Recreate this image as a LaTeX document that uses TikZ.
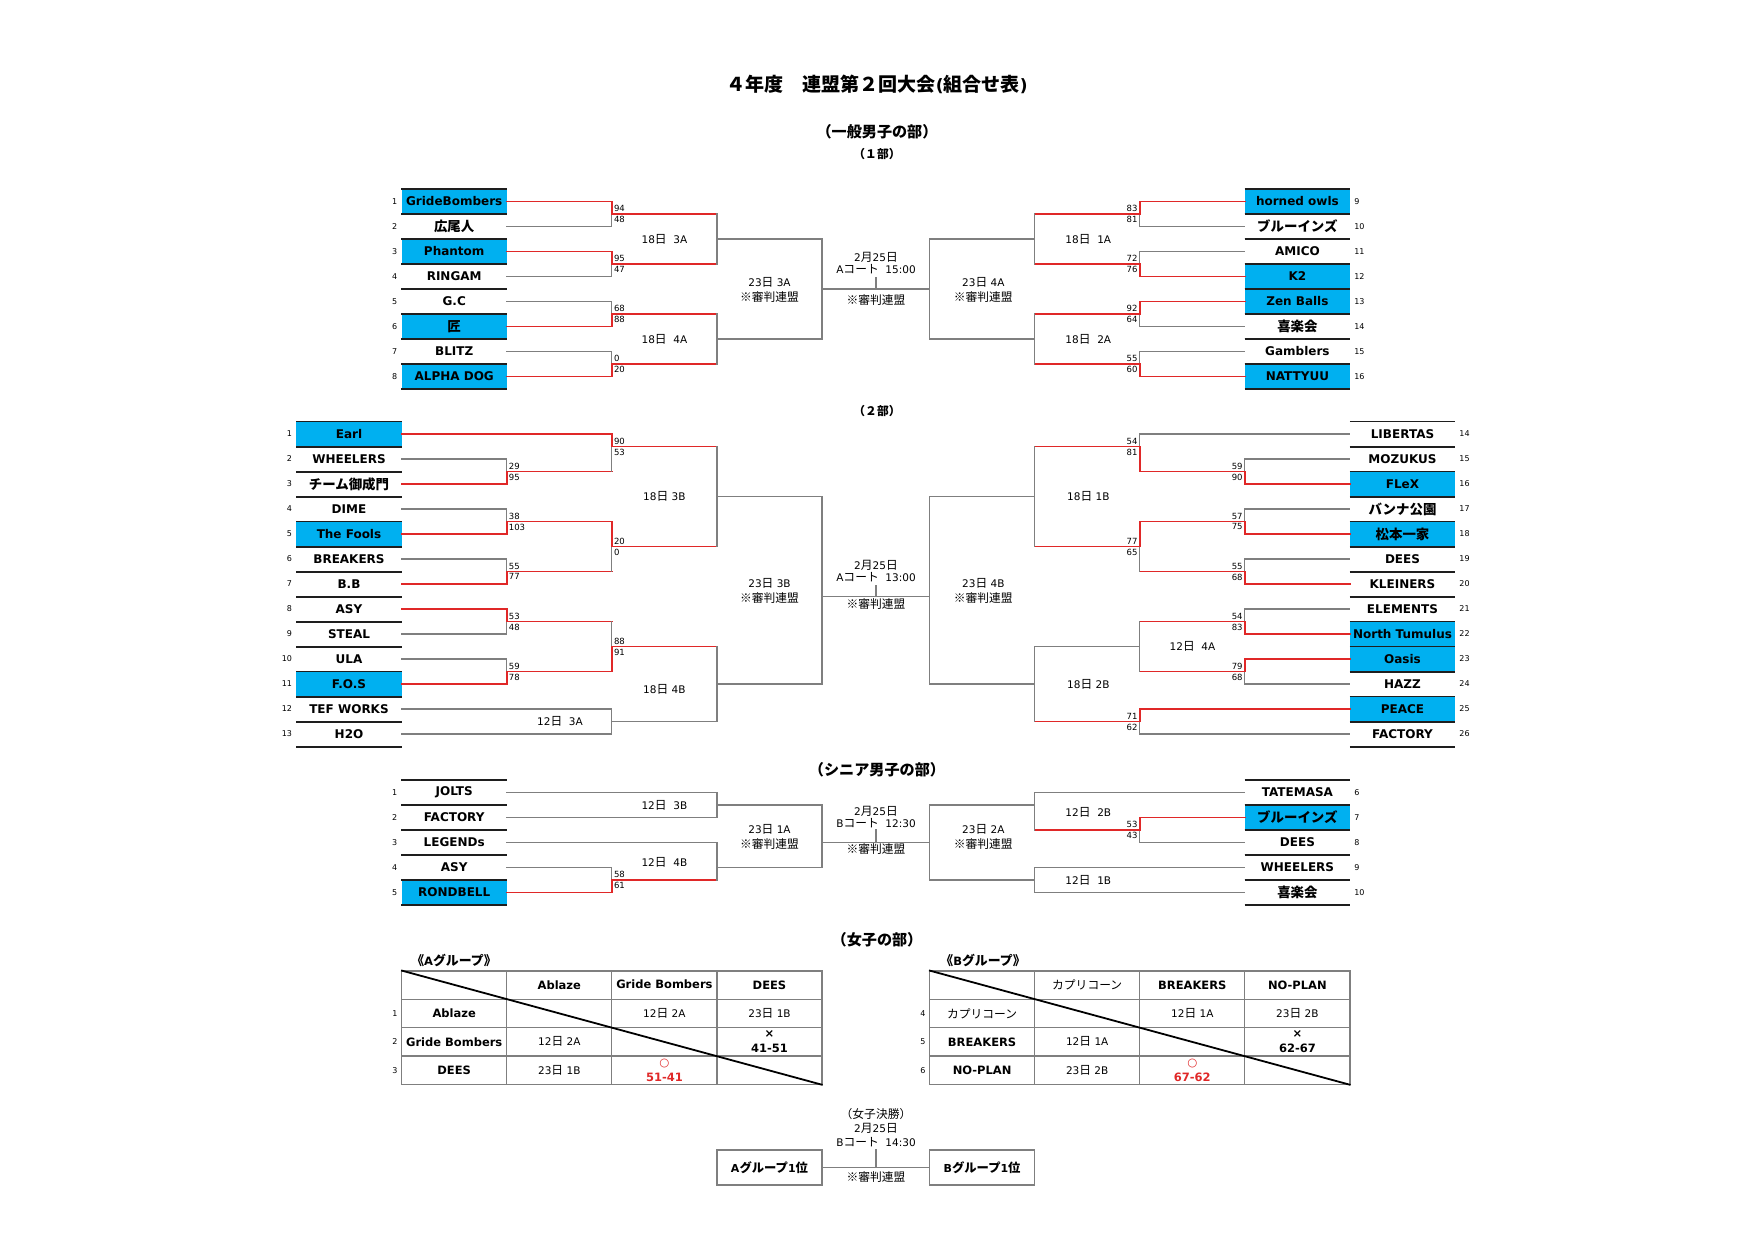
\documentclass[tikz,border=0pt]{standalone}
\usepackage{fontspec}
\setmainfont{DejaVu Sans}
\newfontfamily\jpfont{Noto Sans CJK JP}[Scale=1.12]
\usetikzlibrary{positioning}
\definecolor{Sky}{HTML}{00B0F0}
\definecolor{Win}{HTML}{E02828}
\definecolor{Wire}{HTML}{7F7F7F}
\definecolor{Rule}{HTML}{1E1E1E}

% kana / kanji are set in the CJK face automatically
\XeTeXinterchartokenstate=1
\newXeTeXintercharclass\jpclass
\count255="3000
\loop
  \XeTeXcharclass\count255=\jpclass
  \advance\count255 by 1
\ifnum\count255<"A000 \repeat
\count255="FF00
\loop
  \XeTeXcharclass\count255=\jpclass
  \advance\count255 by 1
\ifnum\count255<"FFF0 \repeat
\XeTeXcharclass"203B=\jpclass
\XeTeXinterchartoks 0 \jpclass={\begingroup\jpfont}
\XeTeXinterchartoks 4095 \jpclass={\begingroup\jpfont}
\XeTeXinterchartoks \jpclass 0={\endgroup}
\XeTeXinterchartoks \jpclass 4095={\endgroup}

\newcommand\teamfont{\bfseries\fontsize{12}{13}\selectfont}
\newcommand\numfont{\fontsize{8}{9}\selectfont}
\newcommand\scorefont{\fontsize{8.5}{9}\selectfont}
\newcommand\labelfont{\fontsize{10.5}{15.5}\selectfont}
\newcommand\datefont{\fontsize{10.5}{12}\selectfont}

\tikzset{
  team/.style={minimum width=105.1, minimum height=25, inner sep=0pt, font=\teamfont},
  hi/.style={fill=Sky},
  lo/.style={},
  rowline/.style={draw=Rule, line width=1.6pt},
  redline/.style={draw=Win, line width=1.7pt, line cap=rect},
  greyline/.style={draw=Wire, line width=1.3pt, line cap=rect},
  num/.style={font=\numfont, inner sep=1pt},
  score/.style={font=\scorefont, inner sep=2pt},
  matchlabel/.style={font=\labelfont, align=center, inner sep=0pt},
  datelabel/.style={font=\datefont, align=center, inner sep=0pt},
  titletext/.style={font=\bfseries\fontsize{17}{20}\selectfont},
  headtext/.style={font=\bfseries\fontsize{13.5}{15}\selectfont},
  subtext/.style={font=\bfseries\fontsize{10.5}{12}\selectfont},
  grouptext/.style={font=\bfseries\fontsize{11.5}{13}\selectfont},
  tabframe/.style={draw=Wire, line width=1.2pt, minimum width=420.3, minimum height=113.3, inner sep=0pt},
  tabline/.style={draw=Wire, line width=1.2pt},
  diag/.style={draw=black, line width=1.8pt},
  cell/.style={font=\fontsize{10.5}{15}\selectfont, align=center, inner sep=0pt},
  cellb/.style={font=\bfseries\fontsize{11.5}{15}\selectfont, align=center, inner sep=0pt},
  finalbox/.style={draw=Wire, line width=1.3pt, minimum width=105.1, minimum height=35,
    font=\bfseries\fontsize{11}{12}\selectfont}
}

\newcommand\wonline[2]{\draw[redline] (#1) -| (#2);}
\newcommand\lostline[2]{\draw[greyline] (#1) -| (#2);}
\newcommand\cutline[2]{\draw[redline] (#1) -- (#1 -| #2); \draw[greyline] (#1 -| #2) -- (#2);}
\newcommand\scoreleft[3]{\node[score,above right] (#1t) at (#1) {#2}; \node[score,below right] (#1b) at (#1) {#3};}
\newcommand\scoreright[3]{\node[score,above left] (#1t) at (#1) {#2}; \node[score,below left] (#1b) at (#1) {#3};}

\begin{document}
\begin{tikzpicture}[x=1pt,y=-1pt]
\useasboundingbox (0,0) rectangle (1754,1240);

% headings
\node[titletext] (title) at (877,84) {４年度　連盟第２回大会(組合せ表)};
\node[headtext] (head1) at (877,132) {（一般男子の部）};
\node[subtext] (part1) at (877,154) {（１部）};
\node[subtext] (part2) at (877,411.5) {（２部）};
\node[headtext] (head2) at (877,769.5) {（シニア男子の部）};
\node[headtext] (head3) at (877,939.5) {（女子の部）};

% ---------------- 1部 ----------------
\foreach \n/\t/\s in {1/GrideBombers/hi,2/広尾人/lo,3/Phantom/hi,4/RINGAM/lo,5/G.C/lo,6/匠/hi,7/BLITZ/lo,8/ALPHA DOG/hi}{
  \node[team,\s] (A\n) at (454.2,{201.5+25*(\n-1)}) {\t};
  \draw[rowline] (A\n.north west) -- (A\n.north east) (A\n.south west) -- (A\n.south east);
  \node[num,left=3pt of A\n] (nA\n) {\n};
}
\foreach \n/\t/\s in {9/horned owls/hi,10/ブルーインズ/lo,11/AMICO/lo,12/K2/hi,13/Zen Balls/hi,14/喜楽会/lo,15/Gamblers/lo,16/NATTYUU/hi}{
  \node[team,\s] (A\n) at (1297.4,{201.5+25*(\n-9)}) {\t};
  \draw[rowline] (A\n.north west) -- (A\n.north east) (A\n.south west) -- (A\n.south east);
  \node[num,right=3pt of A\n] (nA\n) {\n};
}
\coordinate (a12) at (611.8,214);
\coordinate (a34) at (611.8,264);
\coordinate (a56) at (611.8,314);
\coordinate (a78) at (611.8,364);
\coordinate (a14) at (716.9,239);
\coordinate (a58) at (716.9,339);
\coordinate (a18) at (822,289);
\coordinate (b910) at (1139.7,214);
\coordinate (b1112) at (1139.7,264);
\coordinate (b1314) at (1139.7,314);
\coordinate (b1516) at (1139.7,364);
\coordinate (b912) at (1034.6,239);
\coordinate (b1316) at (1034.6,339);
\coordinate (b916) at (929.5,289);
\coordinate (fin1) at (876,289);
\coordinate (fin1top) at (876,278);

\lostline{A2.east}{a12} \wonline{A1.east}{a12}
\lostline{A4.east}{a34} \wonline{A3.east}{a34}
\lostline{A5.east}{a56} \wonline{A6.east}{a56}
\lostline{A7.east}{a78} \wonline{A8.east}{a78}
\cutline{a12}{a14} \cutline{a34}{a14}
\cutline{a56}{a58} \cutline{a78}{a58}
\lostline{a14}{a18} \lostline{a58}{a18}
\lostline{A10.west}{b910} \wonline{A9.west}{b910}
\lostline{A11.west}{b1112} \wonline{A12.west}{b1112}
\lostline{A14.west}{b1314} \wonline{A13.west}{b1314}
\lostline{A15.west}{b1516} \wonline{A16.west}{b1516}
\cutline{b910}{b912} \cutline{b1112}{b912}
\cutline{b1314}{b1316} \cutline{b1516}{b1316}
\lostline{b912}{b916} \lostline{b1316}{b916}
\draw[greyline] (a18) -- (b916);
\draw[greyline] (fin1) -- (fin1top);

\scoreleft{a12}{94}{48} \scoreleft{a34}{95}{47} \scoreleft{a56}{68}{88} \scoreleft{a78}{0}{20}
\scoreright{b910}{83}{81} \scoreright{b1112}{72}{76} \scoreright{b1314}{92}{64} \scoreright{b1516}{55}{60}

\node[matchlabel] (m3A) at (664.4,239.5) {18日\ \ 3A};
\node[matchlabel] (m4A) at (664.4,339.5) {18日\ \ 4A};
\node[matchlabel] (m23a) at (769.5,290) {23日 3A\\※審判連盟};
\node[matchlabel] (m1A) at (1088.3,239.5) {18日\ \ 1A};
\node[matchlabel] (m2A) at (1088.3,339.5) {18日\ \ 2A};
\node[matchlabel] (m23b) at (983.3,290) {23日 4A\\※審判連盟};
\node[datelabel] (final1) at (876,263) {2月25日\\Aコート\ \ 15:00};
\node[datelabel] (ref1) at (876,300) {※審判連盟};

% ---------------- 2部 ----------------
\foreach \n/\t/\s in {1/Earl/hi,2/WHEELERS/lo,3/チーム御成門/lo,4/DIME/lo,5/The Fools/hi,6/BREAKERS/lo,7/B.B/lo,8/ASY/lo,9/STEAL/lo,10/ULA/lo,11/F.O.S/hi,12/TEF WORKS/lo,13/H2O/lo}{
  \node[team,\s] (B\n) at (349,{434+25*(\n-1)}) {\t};
  \draw[rowline] (B\n.north west) -- (B\n.north east) (B\n.south west) -- (B\n.south east);
  \node[num,left=3pt of B\n] (nB\n) {\n};
}
\foreach \n/\t/\s in {14/LIBERTAS/lo,15/MOZUKUS/lo,16/FLeX/hi,17/バンナ公園/lo,18/松本一家/hi,19/DEES/lo,20/KLEINERS/lo,21/ELEMENTS/lo,22/North Tumulus/hi,23/Oasis/hi,24/HAZZ/lo,25/PEACE/hi,26/FACTORY/lo}{
  \node[team,\s] (B\n) at (1402.5,{434+25*(\n-14)}) {\t};
  \draw[rowline] (B\n.north west) -- (B\n.north east) (B\n.south west) -- (B\n.south east);
  \node[num,right=3pt of B\n] (nB\n) {\n};
}
\coordinate (c23) at (506.7,471.5);
\coordinate (c45) at (506.7,521.5);
\coordinate (c67) at (506.7,571.5);
\coordinate (c89) at (506.7,621.5);
\coordinate (c1011) at (506.7,671.5);
\coordinate (c13) at (611.8,446.5);
\coordinate (c47) at (611.8,546.5);
\coordinate (c811) at (611.8,646.5);
\coordinate (c1213) at (611.8,721.5);
\coordinate (c17) at (716.9,496.5);
\coordinate (c813) at (716.9,684);
\coordinate (c113) at (822,596.5);
\coordinate (d1516) at (1244.8,471.5);
\coordinate (d1718) at (1244.8,521.5);
\coordinate (d1920) at (1244.8,571.5);
\coordinate (d2122) at (1244.8,621.5);
\coordinate (d2324) at (1244.8,671.5);
\coordinate (d1416) at (1139.7,446.5);
\coordinate (d1720) at (1139.7,546.5);
\coordinate (d2124) at (1139.7,646.5);
\coordinate (d2526) at (1139.7,721.5);
\coordinate (d1420) at (1034.6,496.5);
\coordinate (d2126) at (1034.6,684);
\coordinate (d1426) at (929.5,596.5);
\coordinate (fin2) at (876,596.5);
\coordinate (fin2top) at (876,586);

\lostline{B2.east}{c23} \wonline{B3.east}{c23}
\lostline{B4.east}{c45} \wonline{B5.east}{c45}
\lostline{B6.east}{c67} \wonline{B7.east}{c67}
\lostline{B9.east}{c89} \wonline{B8.east}{c89}
\lostline{B10.east}{c1011} \wonline{B11.east}{c1011}
\lostline{B12.east}{c1213} \lostline{B13.east}{c1213}
\cutline{c23}{c13} \wonline{B1.east}{c13}
\cutline{c67}{c47} \wonline{c45}{c47}
\cutline{c89}{c811} \wonline{c1011}{c811}
\cutline{c13}{c17} \cutline{c47}{c17}
\lostline{c1213}{c813} \cutline{c811}{c813}
\lostline{c17}{c113} \lostline{c813}{c113}
\lostline{B15.west}{d1516} \wonline{B16.west}{d1516}
\lostline{B17.west}{d1718} \wonline{B18.west}{d1718}
\lostline{B19.west}{d1920} \wonline{B20.west}{d1920}
\lostline{B21.west}{d2122} \wonline{B22.west}{d2122}
\lostline{B24.west}{d2324} \wonline{B23.west}{d2324}
\lostline{B26.west}{d2526} \wonline{B25.west}{d2526}
\lostline{B14.west}{d1416} \wonline{d1516}{d1416}
\cutline{d1920}{d1720} \wonline{d1718}{d1720}
\cutline{d2122}{d2124} \cutline{d2324}{d2124}
\cutline{d1416}{d1420} \cutline{d1720}{d1420}
\lostline{d2124}{d2126} \cutline{d2526}{d2126}
\lostline{d1420}{d1426} \lostline{d2126}{d1426}
\draw[greyline] (c113) -- (d1426);
\draw[greyline] (fin2) -- (fin2top);

\scoreleft{c23}{29}{95} \scoreleft{c45}{38}{103} \scoreleft{c67}{55}{77}
\scoreleft{c89}{53}{48} \scoreleft{c1011}{59}{78}
\scoreleft{c13}{90}{53} \scoreleft{c47}{20}{0} \scoreleft{c811}{88}{91}
\scoreright{d1516}{59}{90} \scoreright{d1718}{57}{75} \scoreright{d1920}{55}{68}
\scoreright{d2122}{54}{83} \scoreright{d2324}{79}{68}
\scoreright{d1416}{54}{81} \scoreright{d1720}{77}{65} \scoreright{d2526}{71}{62}

\node[matchlabel] (m3Ad12) at (560,721) {12日\ \ 3A};
\node[matchlabel] (m3B) at (664.4,496.5) {18日 3B};
\node[matchlabel] (m4B) at (664.4,689) {18日 4B};
\node[matchlabel] (m23c) at (769.5,591) {23日 3B\\※審判連盟};
\node[matchlabel] (m1B) at (1088.3,496.5) {18日 1B};
\node[matchlabel] (m4Ad12) at (1192.5,646.5) {12日\ \ 4A};
\node[matchlabel] (m2B) at (1088.3,684.5) {18日 2B};
\node[matchlabel] (m23d) at (983.3,591) {23日 4B\\※審判連盟};
\node[datelabel] (final2) at (876,571) {2月25日\\Aコート\ \ 13:00};
\node[datelabel] (ref2) at (876,604) {※審判連盟};

% ---------------- シニア ----------------
\foreach \n/\t/\s in {1/JOLTS/lo,2/FACTORY/lo,3/LEGENDs/lo,4/ASY/lo,5/RONDBELL/hi}{
  \node[team,\s] (S\n) at (454.2,{792.5+25*(\n-1)}) {\t};
  \draw[rowline] (S\n.north west) -- (S\n.north east) (S\n.south west) -- (S\n.south east);
  \node[num,left=3pt of S\n] (nS\n) {\n};
}
\foreach \n/\t/\s in {6/TATEMASA/lo,7/ブルーインズ/hi,8/DEES/lo,9/WHEELERS/lo,10/喜楽会/lo}{
  \node[team,\s] (S\n) at (1297.4,{792.5+25*(\n-6)}) {\t};
  \draw[rowline] (S\n.north west) -- (S\n.north east) (S\n.south west) -- (S\n.south east);
  \node[num,right=3pt of S\n] (nS\n) {\n};
}
\coordinate (e12) at (716.9,805);
\coordinate (e45) at (611.8,880);
\coordinate (e35) at (716.9,867.5);
\coordinate (e15) at (822,842.5);
\coordinate (f78) at (1139.7,830);
\coordinate (f68) at (1034.6,805);
\coordinate (f910) at (1034.6,880);
\coordinate (f610) at (929.5,842.5);
\coordinate (fin3) at (876,842.5);
\coordinate (fin3top) at (876,830);

\lostline{S1.east}{e12} \lostline{S2.east}{e12}
\lostline{S4.east}{e45} \wonline{S5.east}{e45}
\lostline{S3.east}{e35} \cutline{e45}{e35}
\lostline{e12}{e15} \lostline{e35}{e15}
\lostline{S8.west}{f78} \wonline{S7.west}{f78}
\lostline{S6.west}{f68} \cutline{f78}{f68}
\lostline{S9.west}{f910} \lostline{S10.west}{f910}
\lostline{f68}{f610} \lostline{f910}{f610}
\draw[greyline] (e15) -- (f610);
\draw[greyline] (fin3) -- (fin3top);

\scoreleft{e45}{58}{61}
\scoreright{f78}{53}{43}

\node[matchlabel] (s3B) at (664.4,805) {12日\ \ 3B};
\node[matchlabel] (s4B) at (664.4,862.5) {12日\ \ 4B};
\node[matchlabel] (s1A) at (769.5,837) {23日 1A\\※審判連盟};
\node[matchlabel] (s2B) at (1088.3,812.5) {12日\ \ 2B};
\node[matchlabel] (s1B) at (1088.3,880) {12日\ \ 1B};
\node[matchlabel] (s2A) at (983.3,837) {23日 2A\\※審判連盟};
\node[datelabel] (final3) at (876,817) {2月25日\\Bコート\ \ 12:30};
\node[datelabel] (ref3) at (876,849) {※審判連盟};

% ---------------- 女子 ----------------
\node[grouptext] (grpA) at (454,960) {《Aグループ》};
\node[tabframe] (tabA) at (611.85,1027.65) {};
\foreach \x in {506.7,611.8,716.9} \draw[tabline] (\x,971) -- (\x,1084.3);
\foreach \y in {999.3,1027.7,1056} \draw[tabline] (401.7,\y) -- (822,\y);
\draw[diag] (tabA.north west) -- (tabA.south east);
\node[cellb] (ta01) at (559.3,985.2) {Ablaze};
\node[cellb] (ta02) at (664.4,984) {Gride Bombers};
\node[cellb] (ta03) at (769.5,985.2) {DEES};
\node[cellb] (ta10) at (454.2,1013.5) {Ablaze};
\node[cell] (ta12) at (664.4,1013.5) {12日 2A};
\node[cell] (ta13) at (769.5,1013.5) {23日 1B};
\node[cellb] (ta20) at (454.2,1041.8) {Gride Bombers};
\node[cell] (ta21) at (559.3,1041.8) {12日 2A};
\node[cellb] (ta23) at (769.5,1041.8) {×\\41-51};
\node[cellb] (ta30) at (454.2,1070.2) {DEES};
\node[cell] (ta31) at (559.3,1070.2) {23日 1B};
\node[cellb,text=Win] (ta32) at (664.4,1070.2) {○\\51-41};
\node[num] (nta1) at (395,1013.5) {1};
\node[num] (nta2) at (395,1041.8) {2};
\node[num] (nta3) at (395,1070.2) {3};

\node[grouptext] (grpB) at (983,960) {《Bグループ》};
\node[tabframe] (tabB) at (1139.75,1027.65) {};
\foreach \x in {1034.6,1139.7,1244.8} \draw[tabline] (\x,971) -- (\x,1084.3);
\foreach \y in {999.3,1027.7,1056} \draw[tabline] (929.5,\y) -- (1350,\y);
\draw[diag] (tabB.north west) -- (tabB.south east);
\node[cell] (tb01) at (1087.2,985.2) {カプリコーン};
\node[cellb] (tb02) at (1192.3,985.2) {BREAKERS};
\node[cellb] (tb03) at (1297.4,985.2) {NO-PLAN};
\node[cell] (tb10) at (982.1,1013.5) {カプリコーン};
\node[cell] (tb12) at (1192.3,1013.5) {12日 1A};
\node[cell] (tb13) at (1297.4,1013.5) {23日 2B};
\node[cellb] (tb20) at (982.1,1041.8) {BREAKERS};
\node[cell] (tb21) at (1087.2,1041.8) {12日 1A};
\node[cellb] (tb23) at (1297.4,1041.8) {×\\62-67};
\node[cellb] (tb30) at (982.1,1070.2) {NO-PLAN};
\node[cell] (tb31) at (1087.2,1070.2) {23日 2B};
\node[cellb,text=Win] (tb32) at (1192.3,1070.2) {○\\67-62};
\node[num] (ntb4) at (923,1013.5) {4};
\node[num] (ntb5) at (923,1041.8) {5};
\node[num] (ntb6) at (923,1070.2) {6};

% 女子決勝
\node[finalbox] (fa) at (769.5,1167.5) {Aグループ1位};
\node[finalbox] (fb) at (982.1,1167.5) {Bグループ1位};
\coordinate (fin4) at (876,1167.5);
\coordinate (fin4top) at (876,1150);
\draw[greyline] (fa) -- (fb);
\draw[greyline] (fin4) -- (fin4top);
\node[datelabel,font=\fontsize{10.5}{14.3}\selectfont] (final4) at (876,1127.8) {（女子決勝）\\2月25日\\Bコート\ \ 14:30};
\node[datelabel] (ref4) at (876,1177) {※審判連盟};
\end{tikzpicture}
\end{document}
